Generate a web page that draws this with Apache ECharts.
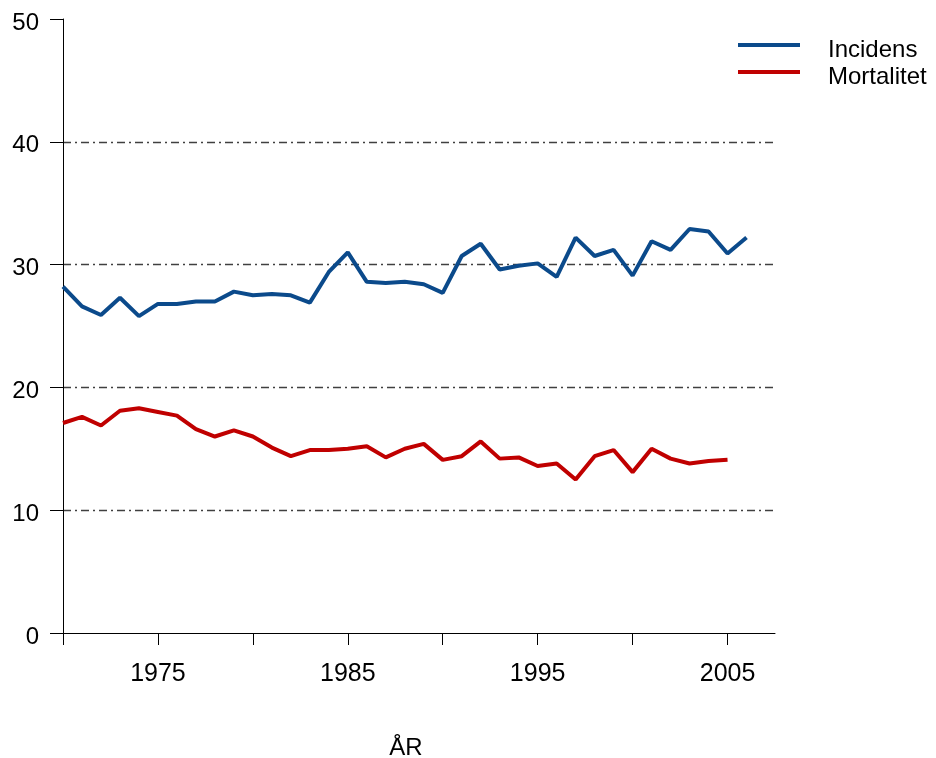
<!DOCTYPE html>
<html>
<head>
<meta charset="utf-8">
<script src="https://cdn.jsdelivr.net/npm/echarts@6/dist/echarts.min.js"></script>
<style>html,body{margin:0;padding:0;background:#fff}#c{width:936px;height:758px}</style>
</head>
<body>
<div id="c"></div>
<script>
const years = [1970,1971,1972,1973,1974,1975,1976,1977,1978,1979,1980,1981,1982,1983,1984,1985,1986,1987,1988,1989,1990,1991,1992,1993,1994,1995,1996,1997,1998,1999,2000,2001,2002,2003,2004,2005,2006];
const incidens = [28.2,26.6,25.9,27.3,25.8,26.8,26.8,27.0,27.0,27.8,27.5,27.6,27.5,26.9,29.4,31.0,28.6,28.5,28.6,28.4,27.7,30.7,31.7,29.6,29.9,30.1,29.0,32.2,30.7,31.2,29.1,31.9,31.2,32.9,32.7,30.9,32.2];
const mortalitet = [17.1,17.6,16.9,18.1,18.3,18.0,17.7,16.6,16.0,16.5,16.0,15.1,14.4,14.9,14.9,15.0,15.2,14.3,15.0,15.4,14.1,14.4,15.6,14.2,14.3,13.6,13.8,12.5,14.4,14.9,13.1,15.0,14.2,13.8,14.0,14.1];
const xTicks = [1970,1975,1980,1985,1990,1995,2000,2005];
const xLabels = [1975,1985,1995,2005];
const seriesNames = ['Incidens','Mortalitet'];
const xName = 'ÅR';

const chart = echarts.init(document.getElementById('c'));
const font = 'Liberation Sans, Arial, sans-serif';
chart.setOption({
  animation: false,
  backgroundColor: '#fff',
  grid: {left: 63, top: 19, right: 161, bottom: 125, containLabel: false},
  legend: {
    orient: 'vertical', left: 738, top: 28, itemWidth: 62, itemHeight: 4, itemGap: -7,
    padding: 0,
    icon: 'rect',
    formatter: name => '\n' + name,
    textStyle: {fontFamily: font, fontSize: 24, color: '#000', padding: [0,0,0,23], lineHeight: 10},
    data: seriesNames
  },
  xAxis: {
    type: 'value', min: 1970, max: 2007.5, interval: 5,
    axisLine: {lineStyle: {color: '#000', width: 1}},
    axisTick: {show: true, length: 12, lineStyle: {color: '#000'}, customValues: xTicks},
    axisLabel: {customValues: xLabels, margin: 29, fontFamily: font, fontSize: 25, color: '#000',
      formatter: v => String(v)},
    splitLine: {show: false}
  },
  yAxis: {
    type: 'value', min: 0, max: 50, interval: 10,
    axisLine: {show: true, lineStyle: {color: '#000', width: 1}},
    axisTick: {show: true, length: 13, lineStyle: {color: '#000'}},
    axisLabel: {margin: 24, fontFamily: font, fontSize: 24, color: '#000', verticalAlign: 'top', lineHeight: 8},
    splitLine: {show: true, showMinLine: false, showMaxLine: false,
      lineStyle: {color: '#404040', width: 1.3, type: [8,4,2,4]}}
  },
  graphic: [{type: 'text', x: 406, y: 748, style: {text: xName, font: '24px Liberation Sans, Arial, sans-serif', fill: '#000', align: 'center', verticalAlign: 'middle'}}],
  series: [
    {name: seriesNames[0], type: 'line', data: years.map((y,i)=>[y, incidens[i]]), showSymbol: false, symbol: 'none',
      lineStyle: {color: '#0b4a8b', width: 4}, itemStyle: {color: '#0b4a8b'}},
    {name: seriesNames[1], type: 'line', data: years.slice(0, mortalitet.length).map((y,i)=>[y, mortalitet[i]]), showSymbol: false, symbol: 'none',
      lineStyle: {color: '#c00000', width: 4}, itemStyle: {color: '#c00000'}}
  ]
});
</script>
</body>
</html>
